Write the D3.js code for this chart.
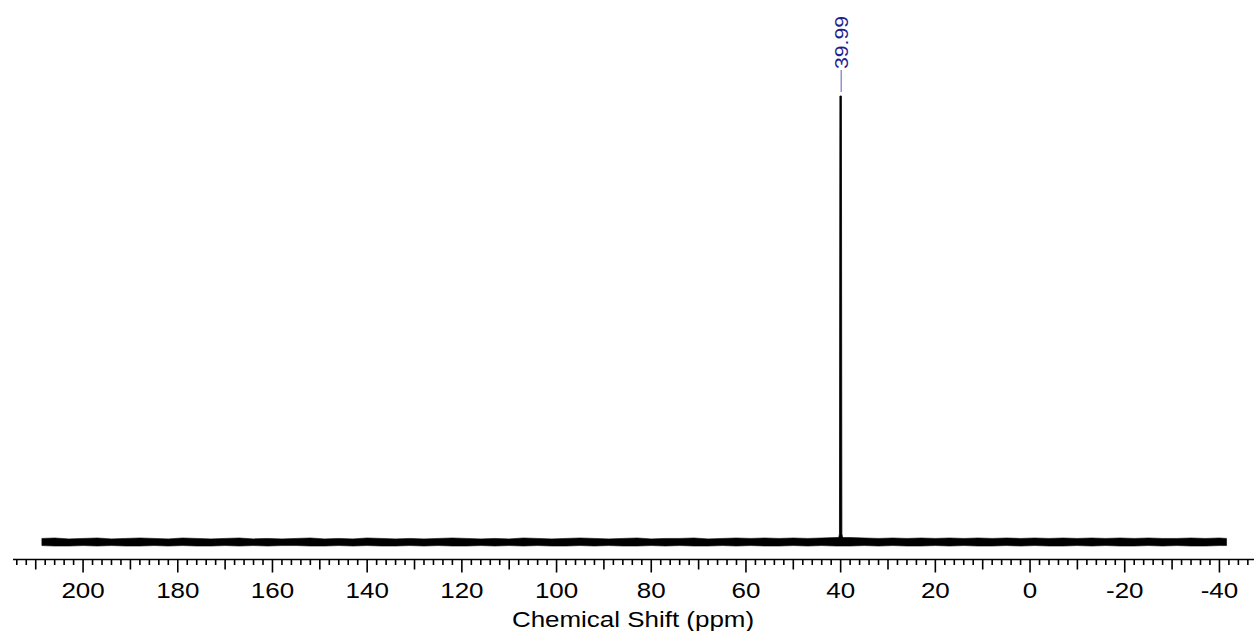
<!DOCTYPE html>
<html>
<head>
<meta charset="utf-8">
<script src="https://cdn.jsdelivr.net/npm/d3@7"></script>
<style>
  html, body { margin: 0; padding: 0; background: #fff; }
  svg { display: block; }
</style>
</head>
<body>
<svg id="chart" width="1254" height="631"></svg>
<script>
// ---- data ----
const tickLabels = [200, 180, 160, 140, 120, 100, 80, 60, 40, 20, 0, -20, -40];
const peakLabel = "39.99";
const peakPos = 39.99;
// baseline noise envelope (ppm, upper / lower intensity; peak = 100)
const noisePpm   = [208.7, 206, 203, 200, 197, 194, 191, 188, 185, 182, 179, 176, 173, 170, 167, 164, 161, 158, 155, 152, 149, 146, 143, 140, 137, 134, 131, 128, 125, 122, 119, 116, 113, 110, 107, 104, 101, 98, 95, 92, 89, 86, 83, 80, 77, 74, 71, 68, 65, 62, 59, 56, 53, 50, 47, 44, 41, 38, 35, 32, 29, 26, 23, 20, 17, 14, 11, 8, 5, 2, -1, -4, -7, -10, -13, -16, -19, -22, -25, -28, -31, -34, -37, -40, -41.5];
const noiseUpper = [0.8, 0.9, 0.7, 0.8, 0.9, 0.7, 0.8, 0.9, 0.8, 0.7, 0.9, 0.8, 0.7, 0.8, 0.9, 0.7, 0.8, 0.7, 0.8, 0.9, 0.7, 0.8, 0.7, 0.9, 0.8, 0.7, 0.8, 0.7, 0.8, 0.9, 0.8, 0.7, 0.8, 0.7, 0.9, 0.8, 0.7, 0.8, 0.9, 0.8, 0.7, 0.8, 0.9, 0.7, 0.8, 0.8, 0.9, 0.7, 0.8, 0.9, 0.8, 0.9, 0.8, 0.9, 0.8, 0.9, 1.0, 1.0, 0.9, 0.8, 0.9, 0.8, 0.9, 0.8, 0.9, 0.8, 0.9, 0.8, 0.9, 0.8, 0.9, 0.8, 0.9, 0.8, 0.9, 0.8, 0.9, 0.8, 0.9, 0.8, 0.8, 0.9, 0.8, 0.9, 0.8];
const noiseLower = [-0.8, -0.9, -0.9, -0.8, -0.9, -0.8, -0.9, -0.9, -0.8, -0.9, -0.8, -0.9, -0.9, -0.8, -0.9, -0.8, -0.9, -0.8, -0.8, -0.9, -0.9, -0.8, -0.9, -0.8, -0.9, -0.9, -0.8, -0.9, -0.8, -0.9, -0.9, -0.8, -0.9, -0.8, -0.9, -0.8, -0.9, -0.9, -0.8, -0.9, -0.8, -0.9, -0.9, -0.8, -0.9, -0.8, -0.9, -0.9, -0.8, -0.9, -0.8, -0.9, -0.9, -0.8, -0.9, -0.8, -0.9, -0.9, -0.8, -0.9, -0.8, -0.9, -0.9, -0.8, -0.9, -0.8, -0.9, -0.9, -0.8, -0.9, -0.8, -0.9, -0.9, -0.8, -0.9, -0.8, -0.9, -0.9, -0.8, -0.9, -0.8, -0.9, -0.9, -0.8, -0.8];
// the single DMSO-d6 peak
const peakPpm = [40.55, 40.25, 40.16, 39.84, 39.74, 39.45];
const peakInt = [0, 1.8, 100, 100, 1.8, 0];

// ---- layout ----
const svg = d3.select("#chart");
const x = d3.scaleLinear().domain([214.8, -47.3]).range([13, 1254]);
const y = d3.scaleLinear().domain([0, 100]).range([542, 96]);
const stretch = 1.18;
const font = "Liberation Sans, Arial, sans-serif";

// noise band
const band = noisePpm.map((p, i) => ({p, hi: noiseUpper[i], lo: noiseLower[i]}));
svg.append("path")
  .datum(band)
  .attr("fill", "#000")
  .attr("stroke", "#000")
  .attr("stroke-width", 0.6)
  .attr("d", d3.area().x(d => x(d.p)).y0(d => y(d.lo)).y1(d => y(d.hi)));

// peak
const peak = peakPpm.map((p, i) => ({p, v: peakInt[i]}));
svg.append("path")
  .datum(peak)
  .attr("fill", "#000")
  .attr("stroke", "#000")
  .attr("stroke-width", 0.8)
  .attr("d", d3.area().x(d => x(d.p)).y0(y(0)).y1(d => y(d.v)));

// axis
const axisY = 559.5;
const g = svg.append("g").attr("transform", `translate(0,${axisY})`);
g.append("line").attr("x1", 13).attr("x2", 1254).attr("y1", 0).attr("y2", 0)
  .attr("stroke", "#000").attr("stroke-width", 1.6);
const minorTicks = d3.range(214, -48, -2);
g.selectAll("line.t").data(minorTicks).enter().append("line")
  .attr("class", "t")
  .attr("x1", d => x(d)).attr("x2", d => x(d))
  .attr("y1", 0)
  .attr("y2", d => (d % 20 === 0 ? 13 : (d % 10 === 0 ? 10 : 5.5)))
  .attr("stroke", "#000").attr("stroke-width", 1.6);
g.selectAll("text.tl").data(tickLabels).enter().append("text")
  .attr("class", "tl")
  .attr("transform", d => `translate(${x(d)},38) scale(${stretch},1)`)
  .attr("text-anchor", "middle")
  .attr("font-family", font)
  .attr("font-size", 22)
  .text(d => d);
svg.append("text")
  .attr("transform", `translate(633,627) scale(${stretch},1)`)
  .attr("text-anchor", "middle")
  .attr("font-family", font)
  .attr("font-size", 22)
  .text("Chemical Shift (ppm)");

// peak label
const px = x(peakPos);
svg.append("line")
  .attr("x1", px + 0.5).attr("x2", px + 0.5).attr("y1", 70).attr("y2", 92)
  .attr("stroke", "#7777cc").attr("stroke-width", 1.2);
svg.append("text")
  .attr("transform", `translate(${px + 7},69) rotate(-90) scale(${stretch},1)`)
  .attr("text-anchor", "start")
  .attr("font-family", font)
  .attr("font-size", 18)
  .attr("fill", "#1f1f8f")
  .text(peakLabel);
</script>
</body>
</html>
